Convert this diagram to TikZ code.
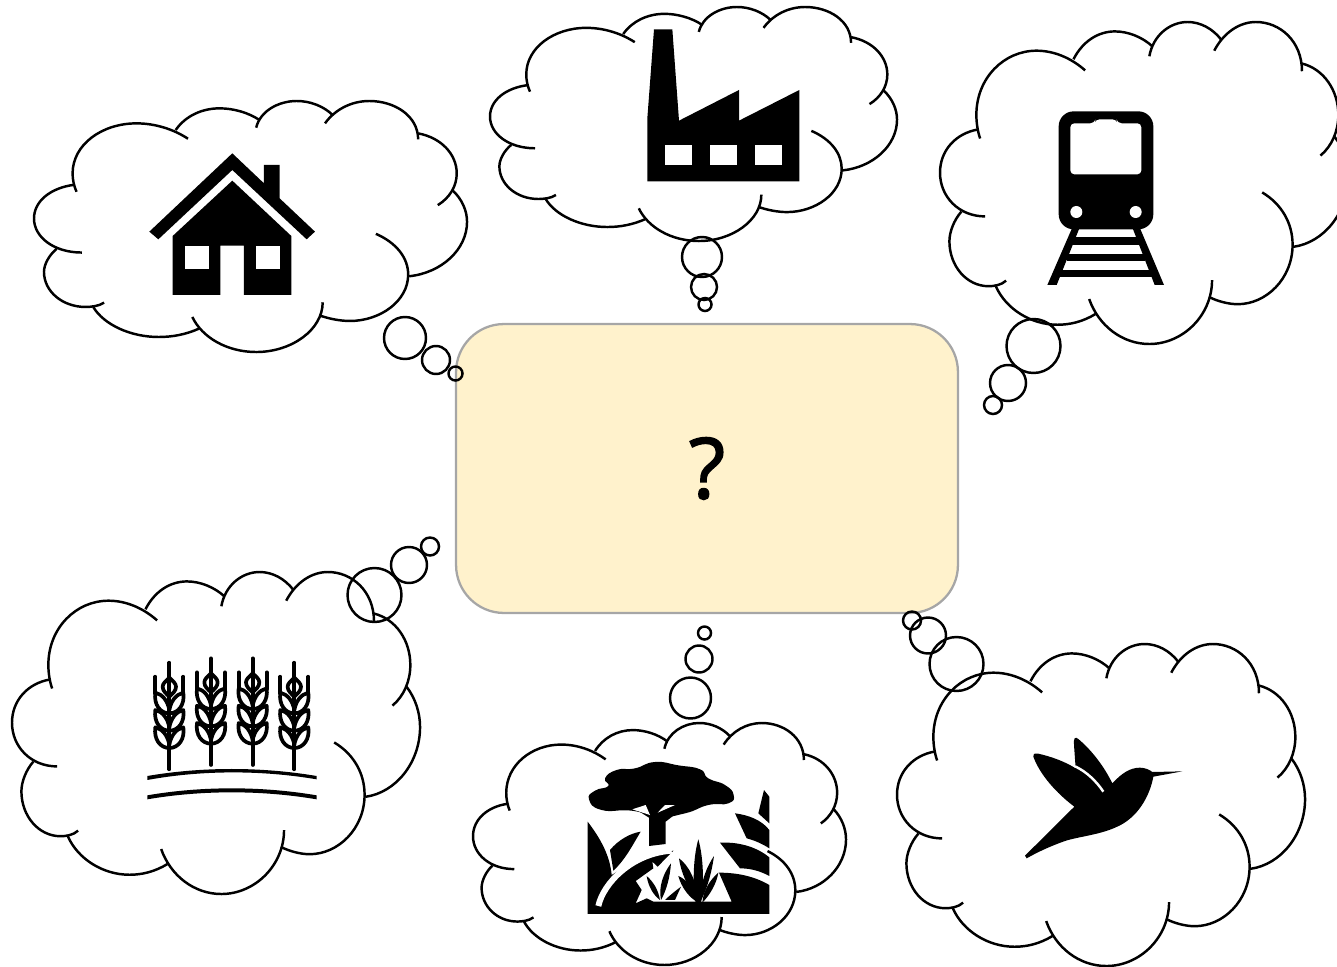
\documentclass[tikz,border=0pt]{standalone}
\usepackage{fontspec}
\setmainfont{Open Sans}
\newfontfamily\markfont[FakeBold=1.6]{Open Sans}
\usetikzlibrary{positioning}
\definecolor{boxfill}{HTML}{FFF2CC}
\definecolor{boxline}{HTML}{A6A6A6}

\tikzset{
    thoughtcloud/.pic={
        \draw[cloudline] (128,272) .. controls (120,255) and (116,235) .. (116,217) .. controls (116,130) and (205,67) .. (308,67) .. controls (365,67) and (420,85) .. (463,113);
        \draw[cloudline] (426,87) .. controls (455,45) and (505,22) .. (558,22) .. controls (600,22) and (645,35) .. (678,57);
        \draw[cloudline] (668,80) .. controls (680,30) and (735,0) .. (790,0) .. controls (830,0) and (870,15) .. (898,42);
        \draw[cloudline] (875,67) .. controls (905,25) and (955,0) .. (1008,0) .. controls (1085,0) and (1155,45) .. (1155,115);
        \draw[cloudline] (1155,97) .. controls (1225,110) and (1271,160) .. (1271,217) .. controls (1271,255) and (1250,290) .. (1214,312);
        \draw[cloudline] (1258,267) .. controls (1288,295) and (1302,330) .. (1302,362) .. controls (1302,445) and (1225,515) .. (1128,525);
        \draw[cloudline] (1028,398) .. controls (1090,425) and (1125,470) .. (1125,520) .. controls (1125,600) and (1040,659) .. (950,659) .. controls (920,659) and (885,652) .. (858,642);
        \draw[cloudline] (868,603) .. controls (868,685) and (775,752) .. (668,752) .. controls (580,752) and (505,708) .. (476,647);
        \draw[cloudline] (496,682) .. controls (455,700) and (415,707) .. (375,707) .. controls (290,707) and (210,670) .. (178,617);
        \draw[cloudline] (211,604) .. controls (195,615) and (170,617) .. (155,617) .. controls (85,617) and (30,570) .. (30,512) .. controls (30,490) and (45,462) .. (68,443);
        \draw[cloudline] (144,454) .. controls (60,454) and (0,408) .. (0,352) .. controls (0,300) and (50,260) .. (121,251);
    },
    wheatstalk/.pic={
        \draw[wheatline] (0,0) -- (0,320);
        \draw[wheatline] (0,45) .. controls (10,55) and (20,62) .. (20,72) .. controls (20,85) and (10,92) .. (0,102) .. controls (-10,92) and (-20,85) .. (-20,72) .. controls (-20,62) and (-10,55) .. (0,45) -- cycle;
        \draw[wheatline] (-42,42) -- (-42,92) (42,42) -- (42,92);
        \foreach \s in {-1,1} {
            \foreach \l in {90,142,194} {
                \draw[wheatline] (0,\l+62) .. controls (\s*28,\l+62) and (\s*47,\l+35) .. (\s*42,\l) .. controls (\s*20,\l+5) and (\s*5,\l+25) .. (0,\l+52);
            }
        }
    }
}

\begin{document}
\begin{tikzpicture}[
    x=0.02cm, y=-0.02cm,
    cloudline/.style={line width=1.4pt},
    wheatline/.style={line width=2.1pt, line cap=round, line join=round},
    bubble/.style={draw, circle, inner sep=0pt, line width=1.4pt},
    centerbox/.style={draw=boxline, line width=1.3pt, fill=boxfill, rounded corners=0.96cm, minimum width=10.04cm, minimum height=5.78cm, font=\fontsize{48}{52}\selectfont\markfont}
]
    \useasboundingbox (0,0) rectangle (1337,966);

    \node[centerbox] (question) at (707,468.5) {?};

    % clouds
    \pic[xscale=0.3326, yscale=0.3338] at (34,101) {thoughtcloud};
    \pic[xscale=0.3126, yscale=0.3112] at (490,7) {thoughtcloud};
    \pic[xscale=0.3134, yscale=0.4282] at (940,22) {thoughtcloud};
    \pic[xscale=0.3134, yscale=0.4282] at (12,572) {thoughtcloud};
    \pic[xscale=0.2865, yscale=0.3218] at (473,723) {thoughtcloud};
    \pic[xscale=0.3134, yscale=0.4282] at (897,644) {thoughtcloud};

    % bubbles
    \node[bubble, minimum size=0.84cm] (house1) at (405,338) {};
    \node[bubble, minimum size=0.56cm] (house2) at (436,360) {};
    \node[bubble, minimum size=0.28cm] (house3) at (455.5,373.5) {};
    \node[bubble, minimum size=0.8cm] (factory1) at (702,257) {};
    \node[bubble, minimum size=0.52cm] (factory2) at (704,287) {};
    \node[bubble, minimum size=0.26cm] (factory3) at (705,304.5) {};
    \node[bubble, minimum size=1.08cm] (train1) at (1033.5,346) {};
    \node[bubble, minimum size=0.72cm] (train2) at (1008,383) {};
    \node[bubble, minimum size=0.36cm] (train3) at (993,405) {};
    \node[bubble, minimum size=1.08cm] (wheat1) at (374.5,595) {};
    \node[bubble, minimum size=0.72cm] (wheat2) at (409,565) {};
    \node[bubble, minimum size=0.36cm] (wheat3) at (430,546.5) {};
    \node[bubble, minimum size=0.82cm] (forest1) at (690.5,698) {};
    \node[bubble, minimum size=0.54cm] (forest2) at (699,659) {};
    \node[bubble, minimum size=0.26cm] (forest3) at (704.5,633) {};
    \node[bubble, minimum size=1.08cm] (bird1) at (956.5,664) {};
    \node[bubble, minimum size=0.72cm] (bird2) at (928,635.5) {};
    \node[bubble, minimum size=0.36cm] (bird3) at (912,620.5) {};

    % house
    \begin{scope}[shift={(20,90)}, scale=0.3333]
        \fill (637,190) -- (732,280) -- (732,225) -- (779,225) -- (779,325) -- (885,425) -- (860,448) -- (637,240) -- (415,448) -- (388,425) -- cycle;
        \fill (637,272) -- (814,438) -- (814,615) -- (672,615) -- (672,467) -- (601,467) -- (601,615) -- (458,615) -- (458,438) -- cycle;
        \fill[white] (494,467) rectangle (566,538);
        \fill[white] (708,467) rectangle (779,538);
    \end{scope}

    % factory
    \begin{scope}[shift={(630,20)}, scale=0.3333]
        \fill (72,28) -- (127,28) -- (147,302) -- (327,210) -- (327,302) -- (508,210) -- (508,484) -- (52,484) -- (52,295) -- cycle;
        \fill[white] (106,376) rectangle (187,436);
        \fill[white] (240,376) rectangle (321,436);
        \fill[white] (374,376) rectangle (455,436);
    \end{scope}

    % train
    \begin{scope}[shift={(1030,100)}, scale=0.3333]
        \fill (128,380) -- (150,380) -- (80,555) -- (52,555) -- cycle;
        \fill (306,380) -- (328,380) -- (402,555) -- (374,555) -- cycle;
        \fill (130,412) rectangle (326,436);
        \fill (110,461) rectangle (346,484);
        \fill (90,509) rectangle (366,531);
        \fill[rounded corners=0.3cm] (86,34) rectangle (370,388);
        \fill[white, rounded corners=0.08cm] (121,70) -- (193,70) -- (197,58) -- (259,58) -- (263,70) -- (334,70) -- (334,223) -- (121,223) -- cycle;
        \fill[white] (139,336) circle[radius=18];
        \fill[white] (317,336) circle[radius=18];
    \end{scope}

    % wheat
    \begin{scope}[shift={(135,650)}, scale=0.3333]
        \pic[scale=0.3333] at (103,38) {wheatstalk};
        \pic[scale=0.3333] at (228,25) {wheatstalk};
        \pic[scale=0.3333] at (353,25) {wheatstalk};
        \pic[scale=0.3333] at (478,38) {wheatstalk};
        \fill (37,378) .. controls (200,350) and (380,350) .. (545,378) -- (545,388) .. controls (380,360) and (200,360) .. (37,390) -- cycle;
        \fill (37,436) .. controls (200,408) and (380,408) .. (545,436) -- (545,448) .. controls (380,420) and (200,420) .. (37,448) -- cycle;
    \end{scope}

    % forest
    \begin{scope}[shift={(575,750)}, scale=0.3333]
        % crown and trunk
        \fill plot[smooth cycle, tension=0.9] coordinates {(42,148) (60,122) (100,108) (90,85) (125,60) (180,55) (240,36) (310,46) (375,58) (400,85) (450,105) (476,135) (460,160) (400,165) (330,190) (250,200) (170,182) (80,180)};
        \fill (222,190) -- (222,288) -- (272,282) -- (272,190) -- cycle;
        \fill (225,205) -- (170,170) -- (330,170) -- (272,215) -- cycle;
        \fill[white] (172,178) -- (212,165) -- (225,195) -- cycle;
        \fill[white] (248,188) -- (270,165) -- (300,165) -- cycle;
        % left blade, hill and ground
        \fill (38,215) .. controls (80,270) and (105,320) .. (110,375) -- (190,325) -- (295,302) -- (248,350) -- (232,335) -- (235,355) -- (182,393) -- (200,420) -- (182,460) -- (215,445) -- (235,455) -- (470,455) -- (432,368) .. controls (490,368) and (540,380) .. (583,405) -- (583,492) -- (38,492) -- cycle;
        \draw[white, line width=3.4pt] (70,468) .. controls (85,400) and (170,310) .. (290,302);
        % leaves
        \fill (105,300) .. controls (130,270) and (165,250) .. (197,245) .. controls (170,290) and (150,330) .. (115,362) -- cycle;
        \fill (435,278) .. controls (500,275) and (550,295) .. (583,322) -- (583,378) .. controls (550,360) and (520,355) .. (495,355) -- cycle;
        \fill (480,190) .. controls (520,195) and (560,210) .. (583,240) -- (583,295) .. controls (560,280) and (535,270) .. (515,265) -- cycle;
        \fill (567,120) -- (583,140) -- (583,220) -- (550,190) -- cycle;
        % grass
        \fill (370,268) .. controls (385,320) and (388,400) .. (378,458) -- (362,458) .. controls (352,400) and (355,320) .. (370,268) -- cycle;
        \fill (312,325) .. controls (340,345) and (365,390) .. (372,458) .. controls (345,420) and (320,380) .. (312,325) -- cycle;
        \fill (417,318) .. controls (410,370) and (395,420) .. (375,458) .. controls (375,400) and (395,350) .. (417,318) -- cycle;
        \fill (310,378) .. controls (340,390) and (360,425) .. (370,458) .. controls (345,445) and (320,415) .. (310,378) -- cycle;
        \fill (430,368) .. controls (425,400) and (405,435) .. (382,458) .. controls (385,420) and (405,390) .. (430,368) -- cycle;
        \fill (288,340) .. controls (285,380) and (275,420) .. (258,450) .. controls (250,410) and (265,370) .. (288,340) -- cycle;
        \fill (215,378) .. controls (235,395) and (250,420) .. (255,450) .. controls (235,435) and (220,410) .. (215,378) -- cycle;
        \fill (318,410) .. controls (305,420) and (285,435) .. (270,450) -- (300,450) -- cycle;
    \end{scope}

    % bird
    \begin{scope}[shift={(1015,725)}, scale=0.3333]
        \fill (35,400) -- (30,392) -- (178,245) .. controls (125,205) and (75,150) .. (55,95) .. controls (55,85) and (62,83) .. (70,86) .. controls (110,95) and (150,110) .. (182,130) -- (177,60) .. controls (175,40) and (180,33) .. (190,42) .. controls (235,80) and (270,130) .. (292,175) .. controls (320,145) and (345,128) .. (375,128) .. controls (390,128) and (405,135) .. (412,141) -- (502,139) -- (415,155) .. controls (405,210) and (370,280) .. (300,308) .. controls (250,330) and (190,335) .. (150,348) .. controls (110,362) and (70,380) .. (35,400) -- cycle;
        \draw[white, line width=1.4pt] (180,124) .. controls (215,140) and (245,170) .. (265,200);
    \end{scope}

\end{tikzpicture}
\end{document}
